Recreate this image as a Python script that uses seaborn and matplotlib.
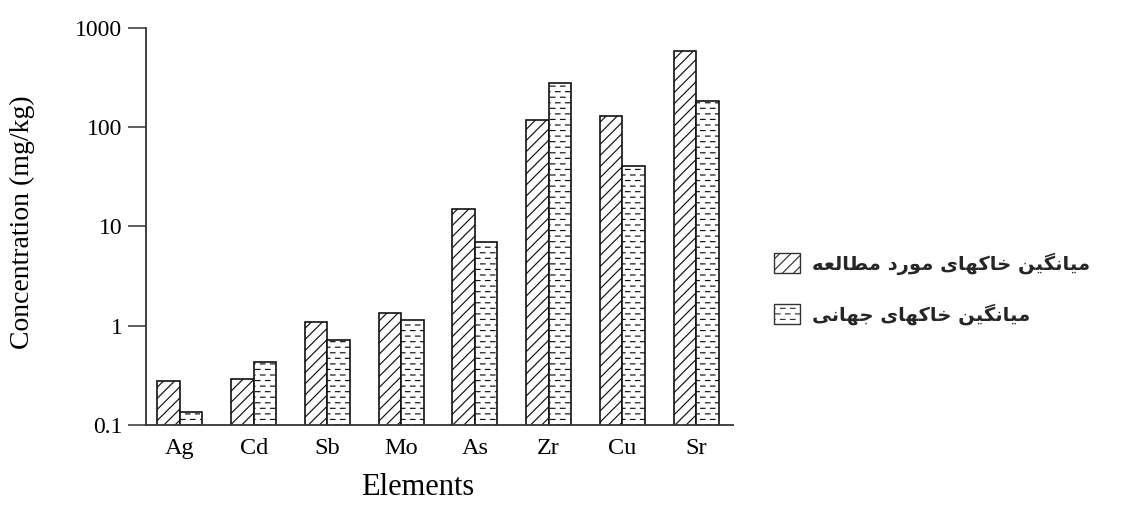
import numpy as np
import pandas as pd
import matplotlib
matplotlib.use("Agg")
import matplotlib.pyplot as plt
import matplotlib.hatch as mhatch
from matplotlib.path import Path
from matplotlib.patches import Patch
from matplotlib.ticker import FixedLocator, FixedFormatter, NullLocator
import seaborn as sns

# ---------------- data ----------------
elements = ["Ag", "Cd", "Sb", "Mo", "As", "Zr", "Cu", "Sr"]
study_soils = [0.28, 0.29, 1.09, 1.34, 15.1, 118, 129, 590]
world_soils = [0.136, 0.43, 0.72, 1.14, 7.0, 278, 40.5, 185]
label_study = "میانگین خاکهای مورد مطالعه"
label_world = "میانگین خاکهای جهانی"
y_ticks = [0.1, 1, 10, 100, 1000]
y_tick_labels = ["0.1", "1", "10", "100", "1000"]

# ---------------- simple Arabic/Persian shaping ----------------
FORMS = {
    'م': ('\uFEE1', '\uFEE2', '\uFEE3', '\uFEE4'),
    'ی': ('\uFBFC', '\uFBFD', '\uFBFE', '\uFBFF'),
    'ا': ('\uFE8D', '\uFE8E', None, None),
    'ن': ('\uFEE5', '\uFEE6', '\uFEE7', '\uFEE8'),
    'گ': ('\uFB92', '\uFB93', '\uFB94', '\uFB95'),
    'خ': ('\uFEA5', '\uFEA6', '\uFEA7', '\uFEA8'),
    'ک': ('\uFB8E', '\uFB8F', '\uFB90', '\uFB91'),
    'ه': ('\uFEE9', '\uFEEA', '\uFEEB', '\uFEEC'),
    'و': ('\uFEED', '\uFEEE', None, None),
    'ر': ('\uFEAD', '\uFEAE', None, None),
    'د': ('\uFEA9', '\uFEAA', None, None),
    'ط': ('\uFEC1', '\uFEC2', '\uFEC3', '\uFEC4'),
    'ل': ('\uFEDD', '\uFEDE', '\uFEDF', '\uFEE0'),
    'ع': ('\uFEC9', '\uFECA', '\uFECB', '\uFECC'),
    'ج': ('\uFE9D', '\uFE9E', '\uFE9F', '\uFEA0'),
}


def shape(text):
    chars = list(text)
    out = []
    for i, c in enumerate(chars):
        if c not in FORMS:
            out.append(c)
            continue
        prev = chars[i - 1] if i > 0 else None
        nxt = chars[i + 1] if i + 1 < len(chars) else None
        jp = prev in FORMS and FORMS[prev][2] is not None
        jn = nxt in FORMS and FORMS[c][2] is not None
        iso, fin, ini, med = FORMS[c]
        if jp and jn:
            out.append(med)
        elif jp:
            out.append(fin)
        elif jn:
            out.append(ini)
        else:
            out.append(iso)
    return "".join(reversed(out))


# ---------------- dashed (brick) hatch replacing '-' ----------------
class DashHatch(mhatch.HatchPatternBase):
    ROWS = 18
    DASHES = 10

    def __init__(self, hatch, density):
        self.num_lines = self.ROWS if hatch.count('-') else 0
        self.num_vertices = self.num_lines * self.DASHES * 2

    def set_vertices_and_codes(self, vertices, codes):
        p = 1.0 / self.DASHES
        L = p * 0.5
        k = 0
        for r in range(self.num_lines):
            y = (r + 0.5) / self.num_lines
            off = 0.005 if r % 2 == 0 else 0.005 + p / 2
            for d in range(self.DASHES):
                x0 = d * p + off
                vertices[k] = (x0, y)
                vertices[k + 1] = (min(x0 + L * 0.9, 1.0), y)
                codes[k] = Path.MOVETO
                codes[k + 1] = Path.LINETO
                k += 2


mhatch._hatch_types[mhatch._hatch_types.index(mhatch.HorizontalHatch)] = DashHatch

# ---------------- plot ----------------
sns.set_theme(style="white")
plt.rcParams['font.family'] = ['Liberation Serif', 'DejaVu Serif']
plt.rcParams['hatch.linewidth'] = 0.85

df = pd.DataFrame({
    "Element": elements * 2,
    "Concentration": study_soils + world_soils,
    "Group": [label_study] * len(elements) + [label_world] * len(elements),
})

fig = plt.figure(figsize=(11.27, 5.13), dpi=100)
ax = fig.add_axes([0.1295, 0.1715, 0.5210, 0.7740])
ax.set_yscale("log")
sns.barplot(data=df, x="Element", y="Concentration", hue="Group",
            order=elements, hue_order=[label_study, label_world],
            width=0.61, gap=0, palette=["white", "white"],
            edgecolor="black", linewidth=1.2, legend=False, ax=ax)

hatches = ["///", "-"]
for cont, h in zip(ax.containers, hatches):
    for bar in cont:
        bar.set_hatch(h)
        bar.set_facecolor("white")
        bar.set_edgecolor("#111111")

ax.set_ylim(0.1, 1000)
ax.set_xlim(-0.46, 7.50)
ax.yaxis.set_major_locator(FixedLocator(y_ticks))
ax.yaxis.set_major_formatter(FixedFormatter(y_tick_labels))
ax.yaxis.set_minor_locator(NullLocator())

for s in ["top", "right"]:
    ax.spines[s].set_visible(False)
for s in ["left", "bottom"]:
    ax.spines[s].set_color("#333333")
    ax.spines[s].set_linewidth(1.3)

ax.tick_params(axis="y", which="major", direction="out", length=13, width=1.1,
               color="#333333", labelsize=17, labelcolor="black", pad=4, left=True)
ax.tick_params(axis="x", length=0, labelsize=17.5, labelcolor="black", pad=9)

ax.set_xlabel("Elements", fontsize=22, color="black", va="center")
ax.xaxis.set_label_coords(0.463, -0.158)
ax.set_ylabel("Concentration (mg/kg)", fontsize=20, color="black", va="center")
ax.yaxis.set_label_coords(-0.211, 0.51)

handles = [Patch(facecolor="white", edgecolor="#333333", hatch="///", linewidth=1.0),
           Patch(facecolor="white", edgecolor="#333333", hatch="-", linewidth=1.0)]
ax.legend(handles, [shape(label_study), shape(label_world)],
          loc="center left", bbox_to_anchor=(0.687, 0.437),
          bbox_transform=fig.transFigure, frameon=False,
          prop={"family": ["DejaVu Sans"], "weight": "bold", "size": 14},
          handlelength=1.35, handleheight=1.2, handletextpad=0.6,
          labelspacing=1.5, borderpad=0, borderaxespad=0)

fig.savefig("out.png", dpi=100, facecolor="white")
